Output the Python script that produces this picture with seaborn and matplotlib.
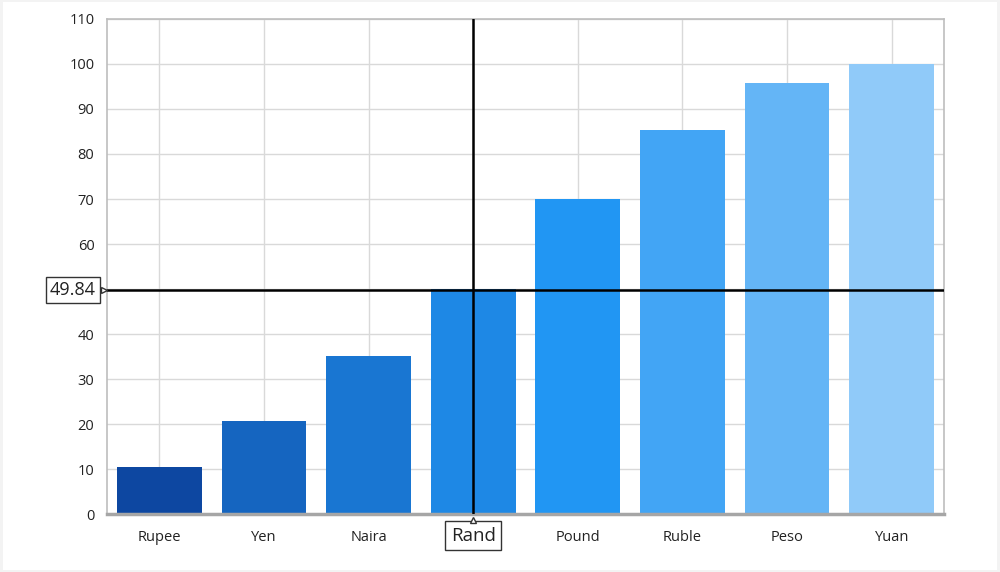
import matplotlib
matplotlib.use("Agg")
import matplotlib.pyplot as plt
import matplotlib.transforms as mtransforms
import seaborn as sns
import pandas as pd

# data
currencies = ["Rupee", "Yen", "Naira", "Rand", "Pound", "Ruble", "Peso", "Yuan"]
values = [10.5, 20.8, 35.1, 50.0, 70.1, 85.4, 95.8, 100.0]
colors = ["#0D47A1", "#1565C0", "#1976D2", "#1E88E5", "#2196F3", "#42A5F5", "#64B5F6", "#90CAF9"]
y_ticks = list(range(0, 111, 10))
cross_x = "Rand"
cross_y = 49.84

df = pd.DataFrame({"currency": currencies, "value": values})

sns.set_style("white")
plt.rcParams["font.family"] = ["Open Sans", "DejaVu Sans"]

fig = plt.figure(figsize=(10, 5.72), dpi=100, facecolor="#f3f3f3")
# white panel inside a thin grey frame
fig.patches.append(plt.Rectangle((0.003, 0.004), 0.994, 0.992, transform=fig.transFigure,
                                 facecolor="white", edgecolor="none", zorder=-10))
ax = fig.add_axes([0.107, 0.101, 0.837, 0.866])

sns.barplot(data=df, x="currency", y="value", hue="currency", palette=colors,
            legend=False, width=0.81, saturation=1, linewidth=0, ax=ax, zorder=2)

ax.set_xlim(-0.5, len(currencies) - 0.5)
ax.set_ylim(0, 110)
ax.set_yticks(y_ticks)
ax.grid(True, color="#d9d9d9", linewidth=1, zorder=0)
ax.set_axisbelow(True)
ax.set_xlabel("")
ax.set_ylabel("")

for side in ["top", "right", "left"]:
    ax.spines[side].set_color("#bdbdbd")
    ax.spines[side].set_linewidth(1.2)
ax.spines["bottom"].set_color("#a6a6a6")
ax.spines["bottom"].set_linewidth(2.5)

ax.tick_params(axis="both", length=6, color="#a6a6a6", labelsize=10.5, labelcolor="#222222", pad=3)
ax.tick_params(axis="x", pad=5)

# crosshair
xi = currencies.index(cross_x)
ax.axvline(xi, color="black", linewidth=1.8, zorder=5)
ax.axhline(cross_y, color="black", linewidth=1.8, zorder=5)

box = dict(facecolor="white", edgecolor="#333333", linewidth=1)
ax.annotate(f"{cross_y:.2f}", xy=(0, cross_y), xycoords=("axes fraction", "data"),
            xytext=(-8, 0), textcoords="offset points", ha="right", va="center",
            fontsize=13, color="#222222", annotation_clip=False, zorder=10,
            bbox=dict(boxstyle="square,pad=0.22", **box))
ax.annotate(cross_x, xy=(xi, 0), xycoords=("data", "axes fraction"),
            xytext=(0, -9), textcoords="offset points", ha="center", va="top",
            fontsize=13.5, color="#222222", annotation_clip=False, zorder=10,
            bbox=dict(boxstyle="square,pad=0.3", **box))

# little pointers on the crosshair labels
ytrans = mtransforms.blended_transform_factory(ax.transAxes, ax.transData)
xtrans = mtransforms.blended_transform_factory(ax.transData, ax.transAxes)
ax.plot([-0.004], [cross_y], marker=">", markersize=5, markerfacecolor="white",
        markeredgecolor="#333333", markeredgewidth=1, transform=ytrans, clip_on=False, zorder=11)
ax.plot([xi], [-0.012], marker="^", markersize=5, markerfacecolor="white",
        markeredgecolor="#333333", markeredgewidth=1, transform=xtrans, clip_on=False, zorder=11)

# tick labels sitting under the crosshair boxes are covered in the reference
ax.get_xticklabels()[xi].set_visible(False)
ax.get_yticklabels()[y_ticks.index(50)].set_visible(False)

fig.savefig("out.png", dpi=100, facecolor=fig.get_facecolor())
